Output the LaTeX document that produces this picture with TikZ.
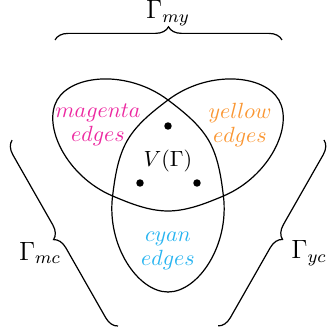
\documentclass[tikz,border=0pt]{standalone}
\usetikzlibrary{decorations.pathreplacing}
\definecolor{magentalbl}{RGB}{236,40,160}
\definecolor{yellowlbl}{RGB}{250,150,50}
\definecolor{cyanlbl}{RGB}{40,180,240}
\begin{document}
\begin{tikzpicture}[x=0.4545pt,y=0.4545pt,
  lobe/.style={line width=0.55pt,line cap=round},
  dot/.style={circle,fill=black,inner sep=0pt,minimum size=3.4pt},
  bracestyle/.style={line width=0.55pt,decorate,decoration={brace,amplitude=6pt}},
  lbl/.style={align=center,inner sep=0pt},
  glbl/.style={inner sep=0pt,font=\large}]
\useasboundingbox (0,0) rectangle (326,330);
\coordinate (O) at (168,166);
\foreach \r in {0,120,240}{
  \draw[lobe,shift={(O)},rotate=\r] (0,-128)
    .. controls (30,-128) and (61.5,-81.6) .. (55.4,-32)
    .. controls (53.1,-13.1) and (50.2,7.05) .. (40.7,23.5)
    .. controls (31.2,39.9) and (15.2,52.5) .. (0,64)
    .. controls (-39.9,94.1) and (-95.85,89.98) .. (-110.85,64);
}
\node[dot] (d1) at (168,204) {};
\node[dot] (d2) at (140,147) {};
\node[dot] (d3) at (197,147) {};
\node[lbl] (V) at (168,169) {$V(\Gamma)$};
\node[lbl,text=magentalbl] (lm) at (98,205) {$magenta$\\[-1pt]$edges$};
\node[lbl,text=yellowlbl] (ly) at (240,205) {$yellow$\\[-1pt]$edges$};
\node[lbl,text=cyanlbl] (lc) at (168,79) {$cyan$\\[-1pt]$edges$};
\coordinate (t1) at (55,290);
\coordinate (t2) at (282,290);
\coordinate (l1) at (118,4);
\coordinate (l2) at (12,190);
\coordinate (r1) at (324,190);
\coordinate (r2) at (218,4);
\draw[bracestyle] (t1) -- (t2);
\draw[bracestyle] (l1) -- (l2);
\draw[bracestyle] (r1) -- (r2);
\node[glbl] (Gmy) at (168,317) {$\Gamma_{my}$};
\node[glbl] (Gmc) at (40,77) {$\Gamma_{mc}$};
\node[glbl,anchor=west] (Gyc) at (291,77) {$\Gamma_{yc}$};
\end{tikzpicture}
\end{document}
